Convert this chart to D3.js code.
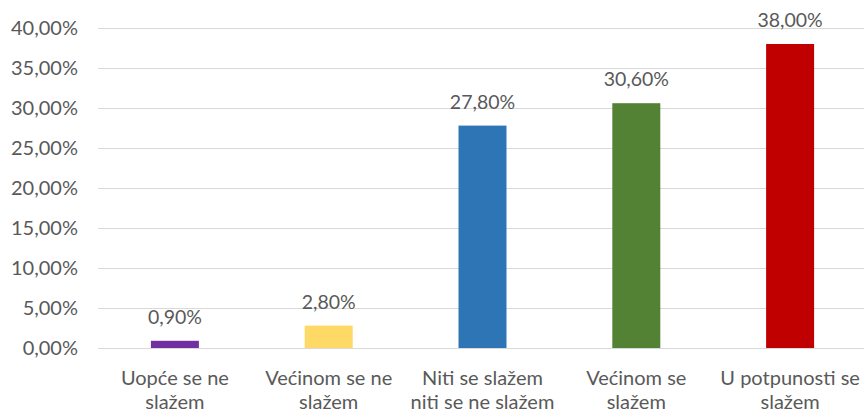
<!DOCTYPE html>
<html>
<head>
<meta charset="utf-8">
<script src="https://cdn.jsdelivr.net/npm/d3@7"></script>
<style>
  body { margin: 0; background: #fff; }
  text { font-family: Lato, "Open Sans", sans-serif; fill: #595959; }
</style>
</head>
<body>
<svg id="chart"></svg>
<script>
// Chart data
const categories = [
    ['Uopće se ne', 'slažem'],
    ['Većinom se ne', 'slažem'],
    ['Niti se slažem', 'niti se ne slažem'],
    ['Većinom se', 'slažem'],
    ['U potpunosti se', 'slažem']
];
const values = [0.9, 2.8, 27.8, 30.6, 38.0];
const barColors = ['#7030A0', '#FFD966', '#2E75B6', '#548235', '#C00000'];
const yTicks = [0, 5, 10, 15, 20, 25, 30, 35, 40];

const width = 864, height = 414;
const margin = { top: 28, right: -3, bottom: 66, left: 98 };

const svg = d3.select('#chart')
    .attr('width', width)
    .attr('height', height);

const fmt = v => v.toFixed(2).replace('.', ',') + '%';

// Scales
const x = d3.scaleBand()
    .domain(d3.range(categories.length))
    .range([margin.left, width - margin.right])
    .paddingInner(0.688)
    .paddingOuter(0.344);

const y = d3.scaleLinear()
    .domain([0, 40])
    .range([height - margin.bottom, margin.top]);

// Gridlines
svg.append('g')
    .selectAll('line')
    .data(yTicks)
    .join('line')
    .attr('x1', margin.left)
    .attr('x2', width)
    .attr('y1', d => Math.round(y(d)) + 0.5)
    .attr('y2', d => Math.round(y(d)) + 0.5)
    .attr('stroke', '#d9d9d9')
    .attr('stroke-width', 1);

// Y axis labels
const yAxis = d3.axisLeft(y)
    .tickValues(yTicks)
    .tickFormat(fmt)
    .tickSize(0)
    .tickPadding(20);

svg.append('g')
    .attr('transform', `translate(${margin.left},0)`)
    .call(yAxis)
    .call(g => g.select('.domain').remove())
    .selectAll('text')
    .style('font-size', '20px')
    .style('font-family', 'Lato, "Open Sans", sans-serif')
    .attr('fill', '#595959');

// Bars
svg.append('g')
    .selectAll('rect')
    .data(values)
    .join('rect')
    .attr('x', (d, i) => x(i))
    .attr('width', x.bandwidth())
    .attr('y', d => y(d))
    .attr('height', d => y(0) - y(d))
    .attr('fill', (d, i) => barColors[i]);

// Value labels
svg.append('g')
    .selectAll('text')
    .data(values)
    .join('text')
    .attr('x', (d, i) => x(i) + x.bandwidth() / 2)
    .attr('y', d => y(d) - 17)
    .attr('text-anchor', 'middle')
    .style('font-size', '19.5px')
    .text(d => fmt(d));

// Category labels
const catG = svg.append('g')
    .selectAll('text')
    .data(categories)
    .join('text')
    .attr('x', (d, i) => x(i) + x.bandwidth() / 2)
    .attr('y', 385)
    .attr('text-anchor', 'middle')
    .style('font-size', '20px');

catG.selectAll('tspan')
    .data(d => d)
    .join('tspan')
    .attr('x', function () { return this.parentNode.getAttribute('x'); })
    .attr('dy', (d, i) => i === 0 ? 0 : 24)
    .text(d => d);
</script>
</body>
</html>
